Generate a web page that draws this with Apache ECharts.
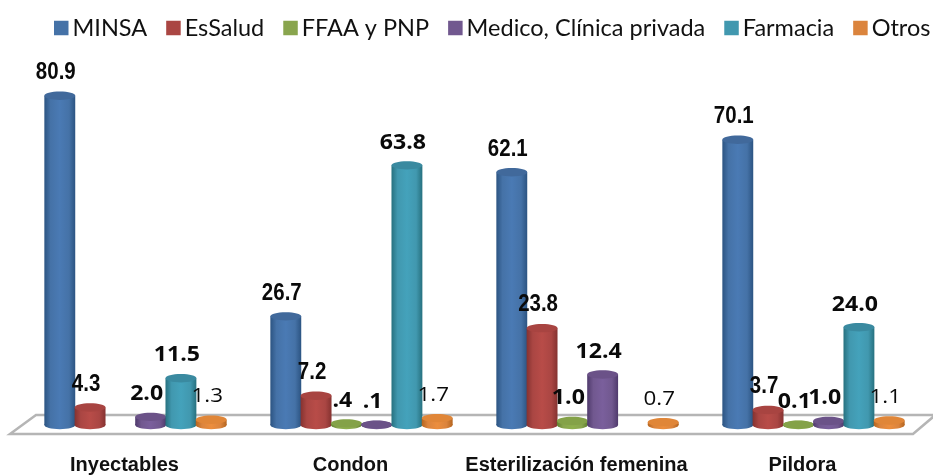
<!DOCTYPE html>
<html><head><meta charset="utf-8">
<style>html,body{margin:0;padding:0;background:#fff}#c{width:933px;height:475px}</style>
<script src="https://cdn.jsdelivr.net/npm/echarts@6/dist/echarts.min.js"></script>
</head><body><div id="c"></div>
<script>
const categories = ['Inyectables','Condon','Esterilización femenina','Pildora'];
const seriesNames = ['MINSA','EsSalud','FFAA y PNP','Medico, Clínica privada','Farmacia','Otros'];
const minsa    = [80.9, 26.7, 62.1, 70.1];
const esSalud  = [4.3, 7.2, 23.8, 3.7];
const ffaa     = [null, 0.4, 1.0, 0.1];
const medico   = [2.0, 0.1, 12.4, 1.0];
const farmacia = [11.5, 63.8, null, 24.0];
const otros    = [1.3, 1.7, 0.7, 1.1];
const allValues = [minsa, esSalud, ffaa, medico, farmacia, otros];

const palette = [
  {flat:'#4572A7', mid:'#4a7ab4', edge:'#2c5482', top:'#41699b'},
  {flat:'#AA4643', mid:'#b84c48', edge:'#853230', top:'#a84441'},
  {flat:'#89A54E', mid:'#8fb04e', edge:'#5f7f2e', top:'#84a248'},
  {flat:'#71588F', mid:'#7a5f9c', edge:'#4f3a6c', top:'#6b5288'},
  {flat:'#4198AF', mid:'#44a2bb', edge:'#27717f', top:'#3a8aa0'},
  {flat:'#DB843D', mid:'#ec8e3e', edge:'#b5651f', top:'#e08638'}
];
const labelFonts = [
  'bold 23px "Liberation Sans"',
  'bold 23px "Liberation Sans"',
  'bold 22px "Open Sans"',
  'bold 22px "Open Sans"',
  'bold 22px "Open Sans"',
  '20px "Open Sans"'
];
const labelStretch = [0.89, 0.89, 1.05, 1.05, 1.05, 1.12];

function cyl(sIdx){
  return function(params, api){
    const cat = api.value(0), val = api.value(1);
    if (val == null || isNaN(val)) return;
    const band = api.size([1,0])[0];
    const step = band * 0.134;
    const w = step * 1.02;
    const base = api.coord([cat, 0]);
    const top = api.coord([cat, val]);
    const x = base[0] + (sIdx - 2.5) * step;
    const ry = 4.2, p = palette[sIdx];
    const grad = {type:'linear',x:0,y:0,x2:1,y2:0,colorStops:[
      {offset:0,color:p.edge},{offset:0.2,color:p.flat},{offset:0.5,color:p.mid},{offset:0.8,color:p.flat},{offset:1,color:p.edge}]};
    const raw = val.toFixed(1);
    const text = (categories[cat]==='Condon' && val<1) ? raw.slice(1) : raw;
    return {type:'group',children:[
      {type:'ellipse',shape:{cx:x,cy:base[1],rx:w/2,ry:ry},style:{fill:grad}},
      {type:'rect',shape:{x:x-w/2,y:top[1],width:w,height:base[1]-top[1]},style:{fill:grad}},
      {type:'ellipse',shape:{cx:x,cy:top[1],rx:w/2,ry:ry},style:{fill:p.top}},
      {type:'text',z2:50,x:x-4,y:top[1]-23,scaleX:labelStretch[sIdx],
        style:{text:text,x:0,y:0,align:'center',verticalAlign:'middle',font:labelFonts[sIdx],fill:'#0a0a0a'}}
    ]};
  };
}

const chart = echarts.init(document.getElementById('c'),null,{renderer:'canvas'});
chart.setOption({
  animation:false,
  backgroundColor:'#fff',
  legend:{left:54,top:16,width:879,padding:0,itemWidth:14.5,itemHeight:14.5,itemGap:19,icon:'rect',
    data:seriesNames,
    textStyle:{fontFamily:'Lato',fontSize:23.5,color:'#111',padding:[0,0,0,-1]}},
  grid:{left:22.5,right:6.5,top:18,bottom:50},
  xAxis:{type:'category',data:categories,axisLine:{show:false},axisTick:{show:false},
    axisLabel:{interval:0,margin:30,padding:[0,22,0,0],fontFamily:'Liberation Sans',fontWeight:'bold',fontSize:20,color:'#111'}},
  yAxis:{type:'value',min:0,max:100,show:false,splitLine:{show:false}},
  graphic:[{type:'polygon',z:0,shape:{points:[[10,434],[36,415],[933,415],[933,417],[913,434]]},
    style:{fill:'#fff',stroke:'#b5b5b5',lineWidth:2.5}}],
  series:allValues.map((vals,i)=>({
    type:'custom',name:seriesNames[i],
    itemStyle:{color:palette[i].flat},
    renderItem:cyl(i),
    encode:{x:0,y:1},
    data:vals.map((v,j)=>[j,v]),
    z:5
  }))
});
</script></body></html>
